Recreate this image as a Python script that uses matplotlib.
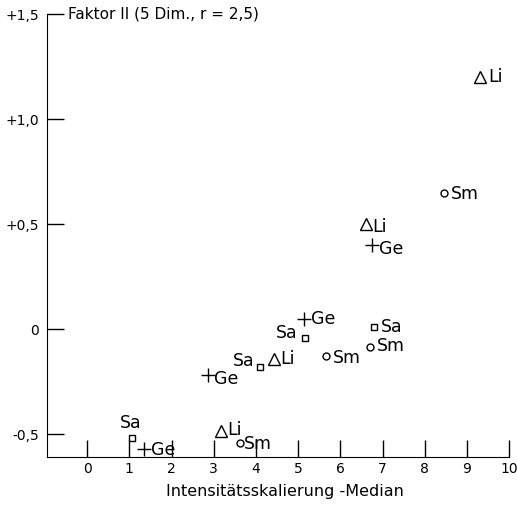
import matplotlib.pyplot as plt

# points
x_vals = [9.3, 8.45, 6.6, 6.75, 5.13, 5.15, 6.8, 6.7, 5.65, 4.42, 4.09, 2.87, 1.07, 1.35, 3.16, 3.61]
y_vals = [1.20, 0.65, 0.50, 0.40, 0.05, -0.04, 0.01, -0.085, -0.13, -0.14, -0.18, -0.22, -0.52, -0.57, -0.485, -0.54]
labels = ['Li', 'Sm', 'Li', 'Ge', 'Ge', 'Sa', 'Sa', 'Sm', 'Sm', 'Li', 'Sa', 'Ge', 'Sa', 'Ge', 'Li', 'Sm']

x_ticks = [0, 1, 2, 3, 4, 5, 6, 7, 8, 9, 10]
y_ticks = [-0.5, 0, 0.5, 1.0, 1.5]
y_ticklabels = ['-0,5', '0', '+0,5', '+1,0', '+1,5']

markers = {'Li': '^', 'Sm': 'o', 'Ge': '+', 'Sa': 's'}
msizes = {'Li': 8, 'Sm': 5, 'Ge': 10, 'Sa': 5}
# label offsets in points (dx, dy, ha)
offsets = [(6, 0, 'left'), (5, -1, 'left'), (5, -2, 'left'), (5, -3, 'left'),
           (5, 0, 'left'), (-5, 3, 'right'), (5, 0, 'left'), (5, 1, 'left'),
           (5, -1, 'left'), (5, 0, 'left'), (-4, 4, 'right'), (4, -3, 'left'),
           (-1, 11, 'center'), (5, -1, 'left'), (5, 1, 'left'), (3, -1, 'left')]

fig = plt.figure(figsize=(5.17, 5.08), dpi=100)
ax = fig.add_axes([0.091, 0.100, 0.894, 0.872])

for xv, yv, lab, off in zip(x_vals, y_vals, labels, offsets):
    ax.plot(xv, yv, marker=markers[lab], markersize=msizes[lab], color='black',
            markerfacecolor='none', markeredgewidth=1.0, linestyle='none')
    ax.annotate(lab, (xv, yv), xytext=(off[0], off[1]), textcoords='offset points',
                ha=off[2], va='center', fontsize=12.5)

ax.set_xlim(-0.95, 10)
ax.set_ylim(-0.61, 1.5)
ax.set_xticks(x_ticks)
ax.set_yticks(y_ticks)
ax.set_yticklabels(y_ticklabels)
ax.tick_params(direction='in', length=12, width=1.0, labelsize=10)
ax.tick_params(axis='y', pad=6)
ax.spines['top'].set_visible(False)
ax.spines['right'].set_visible(False)
ax.set_xlabel('Intensitätsskalierung -Median', fontsize=11.5, labelpad=3)
ax.xaxis.set_label_coords(0.515, -0.06)
ax.text(-0.45, 1.5, 'Faktor II (5 Dim., r = 2,5)', fontsize=11, va='center', ha='left')

fig.savefig('out.png', dpi=100)
